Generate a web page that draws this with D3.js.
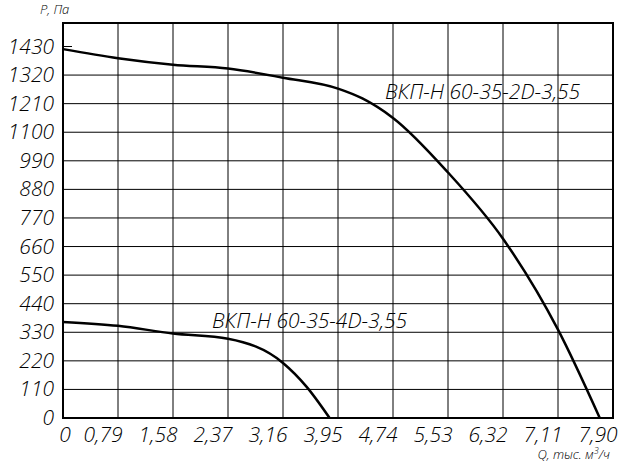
<!DOCTYPE html>
<html><head><meta charset="utf-8">
<script src="https://cdn.jsdelivr.net/npm/d3@7"></script>
<style>body{margin:0;background:#fff}text{font-family:"Open Sans",sans-serif;font-style:italic;font-weight:300}</style>
</head><body><div id="chart"></div>
<script>
var xTicks = [0, 0.79, 1.58, 2.37, 3.16, 3.95, 4.74, 5.53, 6.32, 7.11, 7.90];
var yTicks = [0, 110, 220, 330, 440, 550, 660, 770, 880, 990, 1100, 1210, 1320, 1430];
var q2D = [0, 0.79, 1.58, 2.37, 3.16, 3.95, 4.3, 4.74, 5.53, 6.32, 7.11, 7.71];
var p2D = [1420, 1385, 1360, 1345, 1310, 1268, 1230, 1155, 945, 690, 340, 0];
var q4D = [0, 0.79, 1.58, 2.37, 3.16, 3.5, 3.83];
var p4D = [370, 355, 325, 305, 212, 120, 0];

var svg = d3.select("#chart").append("svg").attr("width", 620).attr("height", 463);
var x = d3.scaleLinear().domain([0, 7.90]).range([63, 613]);
var y = d3.scaleLinear().domain([0, 1430]).range([418, 46.5]);
var fmt = function (d) { return d3.format(".2f")(d).replace(".", ","); };

// grid
svg.append("g").selectAll("line").data(xTicks.slice(1, -1)).enter().append("line")
    .attr("x1", x).attr("x2", x).attr("y1", 23).attr("y2", 418)
    .attr("stroke", "#000").attr("stroke-width", 1);
svg.append("g").selectAll("line").data(yTicks.slice(1, -1)).enter().append("line")
    .attr("x1", 63).attr("x2", 613).attr("y1", y).attr("y2", y)
    .attr("stroke", "#000").attr("stroke-width", 1);
svg.append("line").attr("x1", 63).attr("x2", 72).attr("y1", y(1430)).attr("y2", y(1430)).attr("stroke", "#000");
// frame
svg.append("rect").attr("x", 63).attr("y", 23).attr("width", 550).attr("height", 395)
    .attr("fill", "none").attr("stroke", "#000").attr("stroke-width", 2);

svg.append("g").selectAll("text").data(yTicks).enter().append("text")
    .attr("x", 54).attr("y", function (d) { return y(d) + 7; }).attr("text-anchor", "end")
    .attr("font-size", 21).text(function (d) { return d; });
svg.append("g").selectAll("text").data(xTicks).enter().append("text")
    .attr("x", function (d) { return d === 0 ? x(d) + 2 : x(d) - 15; }).attr("y", 442).attr("text-anchor", "middle")
    .attr("font-size", 21).text(function (d) { return d === 0 ? "0" : fmt(d); });
svg.append("text").attr("x", 40).attr("y", 14).attr("font-size", 13).text("P, Па");
svg.append("text").attr("x", 610).attr("y", 459).attr("text-anchor", "end").attr("font-size", 13)
    .html('Q, тыс. м<tspan dy="-5" font-size="9">3</tspan><tspan dy="5">/ч</tspan>');

var line = d3.line().x(function (d) { return x(d[0]); }).y(function (d) { return y(d[1]); }).curve(d3.curveMonotoneX);
[[q2D, p2D], [q4D, p4D]].forEach(function (s) {
    svg.append("path").datum(d3.zip(s[0], s[1])).attr("d", line)
        .attr("fill", "none").attr("stroke", "#000").attr("stroke-width", 2.5);
});
svg.append("text").attr("x", 385).attr("y", 99).attr("font-size", 21).text("ВКП-Н 60-35-2D-3,55");
svg.append("text").attr("x", 212).attr("y", 328).attr("font-size", 21).text("ВКП-Н 60-35-4D-3,55");
</script></body></html>
